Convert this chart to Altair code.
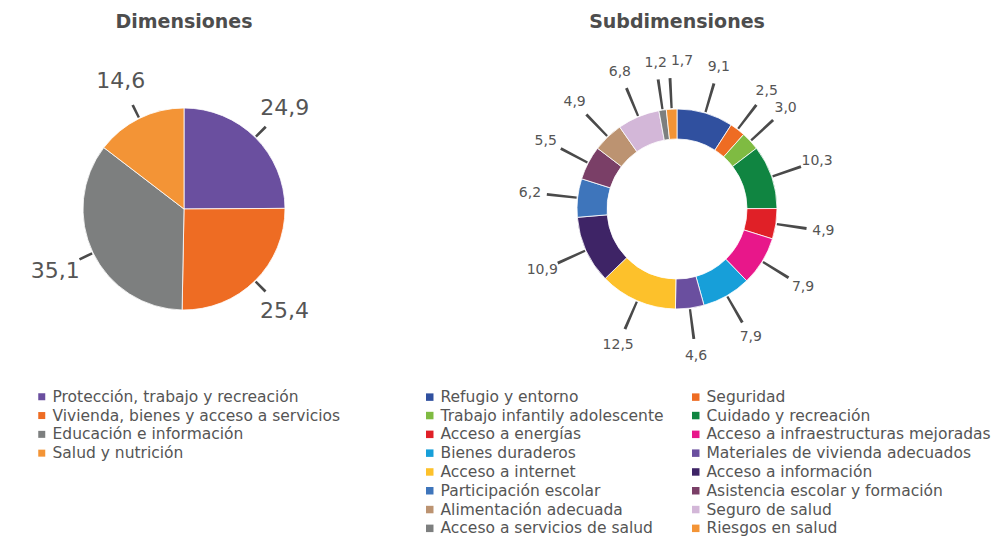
import altair as alt
import pandas as pd

FONT = "DejaVu Sans"
TEXT_COLOR = "#555555"

dim_names = [
    "Protección, trabajo y recreación",
    "Vivienda, bienes y acceso a servicios",
    "Educación e información",
    "Salud y nutrición",
]
dim_values = [24.9, 25.4, 35.1, 14.6]
dim_colors = ["#6a4f9f", "#ee6c23", "#7d7f7f", "#f39436"]

sub_names = [
    "Refugio y entorno",
    "Seguridad",
    "Trabajo infantily adolescente",
    "Cuidado y recreación",
    "Acceso a energías",
    "Acceso a infraestructuras mejoradas",
    "Bienes duraderos",
    "Materiales de vivienda adecuados",
    "Acceso a internet",
    "Acceso a información",
    "Participación escolar",
    "Asistencia escolar y formación",
    "Alimentación adecuada",
    "Seguro de salud",
    "Acceso a servicios de salud",
    "Riesgos en salud",
]
sub_values = [9.1, 2.5, 3.0, 10.3, 4.9, 7.9, 7.9, 4.6, 12.5, 10.9, 6.2, 5.5, 4.9, 6.8, 1.2, 1.7]
sub_colors = [
    "#30509f", "#ee6c23", "#7fbb42", "#108541", "#e02027", "#e8178a", "#179fd9", "#6a4f9f",
    "#fdc12b", "#3e2466", "#3e75bb", "#7a3f67", "#bc9371", "#d3b7d8", "#7d7f7f", "#f39436",
]


def ring(key, names, values, colors, title, width, height, inner, outer, label_r, line_r1,
         line_r2, label_size, legend_x, legend_y, columns, col_pad, sym_size, nudge_last=0):
    df = pd.DataFrame({key: names, "value": values, "idx": list(range(len(names)))})
    n = len(names)
    total = float(sum(values))
    half_w = 2.6 / 2
    mid_r = (line_r1 + line_r2) / 2
    theta_scale = alt.Scale(domain=[0, total], range=[0, 6.283185307179586])
    base = (
        alt.Chart(df)
        .transform_window(cum="sum(value)", sort=[alt.SortField("idx")])
        .transform_calculate(
            start="datum.cum - datum.value",
            mid="datum.cum - datum.value / 2",
            lo=f"datum.cum - datum.value / 2 - {total} * {half_w} / (2 * PI * {mid_r})",
            hi=f"datum.cum - datum.value / 2 + {total} * {half_w} / (2 * PI * {mid_r})",
            lab="replace(format(datum.value, '.1f'), '.', ',')",
        )
    )
    arcs = base.mark_arc(innerRadius=inner, outerRadius=outer, stroke="white", strokeWidth=0.8).encode(
        theta=alt.Theta("start:Q", scale=theta_scale),
        theta2="cum:Q",
        color=alt.Color(
            f"{key}:N",
            scale=alt.Scale(domain=names, range=colors),
            legend=alt.Legend(
                orient="none",
                legendX=legend_x,
                legendY=legend_y,
                title=None,
                direction="horizontal",
                columns=columns,
                columnPadding=col_pad,
                rowPadding=1.8,
                symbolType="square",
                symbolSize=sym_size,
                symbolStrokeWidth=0,
                labelFontSize=15.5,
                labelColor=TEXT_COLOR,
                labelOffset=3,
                labelLimit=0,
            ),
        ),
        tooltip=[f"{key}:N", "value:Q"],
    )
    lines = base.mark_arc(innerRadius=line_r1, outerRadius=line_r2, color="#4a4a4a").encode(
        theta=alt.Theta("lo:Q", scale=theta_scale),
        theta2="hi:Q",
    )
    labels = base.transform_filter(f"datum.idx < {n - 1}").mark_text(
        radius=label_r, fontSize=label_size, color=TEXT_COLOR, font=FONT
    ).encode(
        theta=alt.Theta("mid:Q", scale=theta_scale),
        text="lab:N",
    )
    last_label = base.transform_filter(f"datum.idx == {n - 1}").mark_text(
        radius=label_r, fontSize=label_size, color=TEXT_COLOR, font=FONT, dx=nudge_last
    ).encode(
        theta=alt.Theta("mid:Q", scale=theta_scale),
        text="lab:N",
    )
    return alt.layer(arcs, lines, labels, last_label).properties(
        width=width,
        height=height,
        title=alt.TitleParams(
            title, fontSize=19, fontWeight="bold", color="#4d4d4d", anchor="middle", offset=6, font=FONT
        ),
    )


left = ring("dimension", dim_names, dim_values, dim_colors, "Dimensiones", 342, 342, 0, 101, 143,
            102, 116, 22, 21, 351, 1, 10, 49)
right = ring("subdimension", sub_names, sub_values, sub_colors, "Subdimensiones", 594, 342, 70, 100,
             148, 101, 131, 14, 42, 351, 2, 24, 56, nudge_last=13)

chart = (
    alt.hconcat(left, right, spacing=25)
    .resolve_scale(color="independent", theta="independent")
    .configure(font=FONT)
    .configure_view(stroke=None)
)

chart.save("out.html", embed_options={"renderer": "svg", "actions": False})
